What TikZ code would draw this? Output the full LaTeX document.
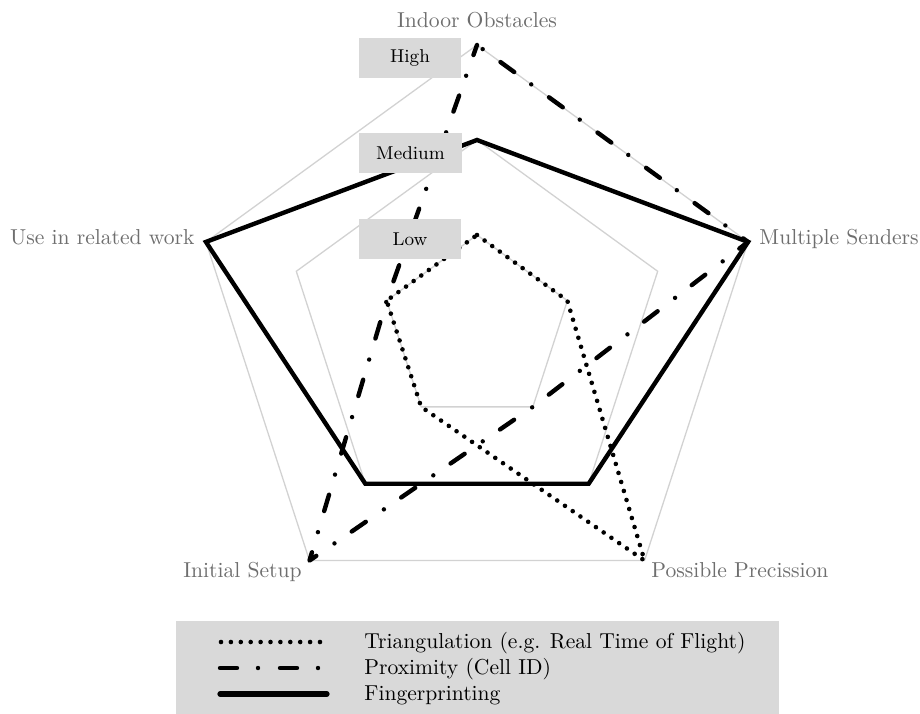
\documentclass[tikz,border=0pt]{standalone}
\usetikzlibrary{calc}
\definecolor{gridgray}{RGB}{210,210,210}
\definecolor{boxgray}{RGB}{217,217,217}
\definecolor{labelgray}{RGB}{110,110,110}
\begin{document}
\begin{tikzpicture}[x=0.5pt,y=0.5pt,
  gridline/.style={draw=gridgray,line width=0.65pt},
  axislabel/.style={text=labelgray,font=\fontsize{10.8pt}{13pt}\selectfont,inner sep=0pt},
  levelbox/.style={fill=boxgray,minimum width=51pt,minimum height=20pt,inner sep=0pt,
                   font=\fontsize{9.3pt}{11pt}\selectfont},
  triang/.style={line width=2.3pt,line cap=round,line join=round,dash pattern=on 0pt off 4.7pt},
  prox/.style={line width=2.2pt,line cap=round,line join=round,
               dash pattern=on 8.5pt off 10.5pt on 0pt off 11pt},
  finger/.style={line width=2.2pt,line join=miter},
  legendtext/.style={font=\fontsize{10.8pt}{13pt}\selectfont,inner sep=0pt,anchor=base west}
]
\useasboundingbox (-477,-383) rectangle (443,330);

% axis points for the three levels (1 = Low, 2 = Medium, 3 = High)
\foreach \ang/\nm in {90/I,18/M,-54/P,234/S,162/U}{
  \coordinate (\nm1) at (\ang:95);
  \coordinate (\nm2) at (\ang:190);
  \coordinate (\nm3) at (\ang:285);
}

% grid pentagons
\foreach \k in {1,2,3}
  \draw[gridline] (I\k) -- (M\k) -- (P\k) -- (S\k) -- (U\k) -- cycle;

% data series
\draw[triang] (I1) -- (M1) -- (P3) -- (S1) -- (U1) -- cycle;
\draw[prox,dash phase=15.5pt] (I3) -- (M3) -- (P1) -- (S3) -- (U1) -- cycle;
\draw[finger] (I2) -- (M3) -- (P2) -- (S2) -- (U3) -- cycle;

% level tags
\node[levelbox] (high) at (-67,272.5) {High};
\node[levelbox] (medium) at (-66.5,177) {Medium};
\node[levelbox] (low) at (-67,91) {Low};

% axis titles
\node[axislabel,anchor=base] (tI) at ($(I3)+(0,18)$) {Indoor Obstacles};
\node[axislabel,anchor=base west] (tM) at ($(M3)+(11,-3)$) {Multiple Senders};
\node[axislabel,anchor=base east] (tU) at ($(U3)+(-11,-3)$) {Use in related work};
\node[axislabel,anchor=base east] (tS) at ($(S3)+(-7.5,-17)$) {Initial Setup};
\node[axislabel,anchor=base west] (tP) at ($(P3)+(6.5,-17)$) {Possible Precission};

% legend
\fill[boxgray] (-301,-291) rectangle (302,-385);
\coordinate (la1) at (-256,-312); \coordinate (lb1) at (-157,-312);
\coordinate (la2) at (-257,-338); \coordinate (lb2) at (-157,-338);
\coordinate (la3) at (-257,-364); \coordinate (lb3) at (-150,-364);
\draw[triang,dash pattern=on 0pt off 4.95pt] (la1) -- (lb1);
\draw[prox] (la2) -- (lb2);
\draw[finger,line width=2.6pt,line cap=round] (la3) -- (lb3);
\node[legendtext] (e1) at (-113,-318.5) {Triangulation (e.g. Real Time of Flight)};
\node[legendtext] (e2) at (-113,-344.5) {Proximity (Cell ID)};
\node[legendtext] (e3) at (-113,-370.5) {Fingerprinting};
\end{tikzpicture}
\end{document}
